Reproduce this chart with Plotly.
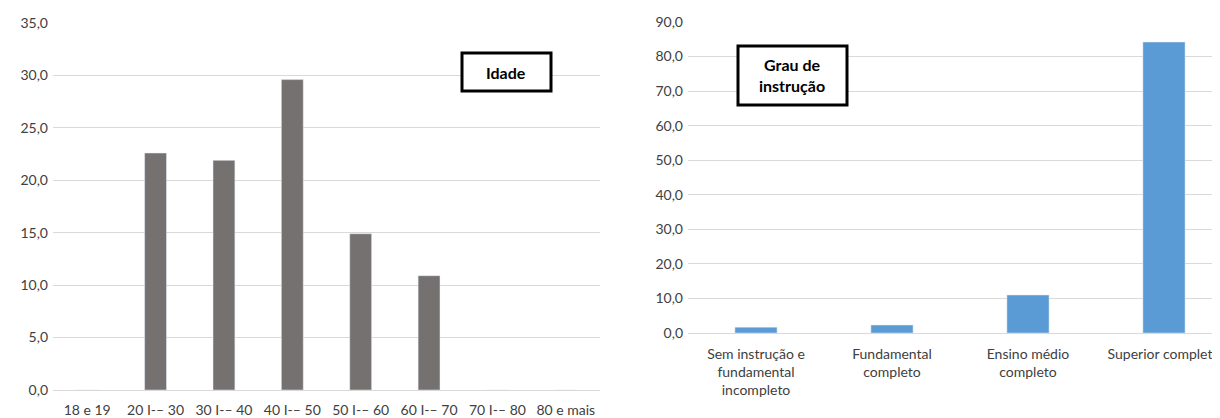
import plotly.graph_objects as go

idade_cats = ["18 e 19", "20 I-– 30", "30 I-– 40", "40 I-– 50", "50 I-– 60",
              "60 I-– 70", "70 I-– 80", "80 e mais"]
idade_vals = [0.0, 22.6, 21.9, 29.6, 14.9, 10.9, 0.0, 0.0]

grau_cats = ["Sem instrução e<br>fundamental<br>incompleto", "Fundamental<br>completo",
             "Ensino médio<br>completo", "Superior completo"]
grau_vals = [1.7, 2.3, 11.0, 84.2]

# page has an 8px body margin; the figure is sized to fit the 1220x418 window
OFF = 8
W, H = 1220 - OFF, 418 - OFF
FONT = "Lato"
TXT = "#404040"

fig = go.Figure()
fig.add_trace(go.Bar(x=idade_cats, y=idade_vals, marker_color="#767171", width=0.32,
                     xaxis="x", yaxis="y", showlegend=False))
fig.add_trace(go.Bar(x=grau_cats, y=grau_vals, marker_color="#5B9BD5", width=0.31,
                     xaxis="x2", yaxis="y2", showlegend=False))

def px(v):
    return (v - OFF) / W

def py(v):
    return (418 - v) / H

common_y = dict(showgrid=True, gridcolor="#D9D9D9", gridwidth=1, zeroline=False,
                tickformat=".1f", tickfont=dict(family=FONT, size=14, color=TXT),
                showline=False, ticks="", fixedrange=True)
common_x = dict(showline=True, linecolor="#D9D9D9", linewidth=1, ticks="",
                tickfont=dict(family=FONT, size=14, color=TXT), tickangle=0,
                fixedrange=True, automargin=False)

fig.update_layout(
    width=W, height=H,
    margin=dict(l=0, r=0, t=0, b=0),
    paper_bgcolor="white", plot_bgcolor="white",
    separators=",.",
    bargap=0.5,
    xaxis=dict(domain=[px(53), px(600)], range=[-0.5, 7.5], anchor="y",
               ticklabelstandoff=7, **common_x),
    yaxis=dict(domain=[py(390), py(23)], range=[0, 35], dtick=5, anchor="x",
               automargin=False, ticklabelstandoff=4, **common_y),
    xaxis2=dict(domain=[px(688), 1.0], range=[-0.5, 3.412], anchor="y2",
                ticklabelstandoff=8, **common_x),
    yaxis2=dict(domain=[py(333), py(22)], range=[0, 90], dtick=10, anchor="x2",
                automargin=False, ticklabelstandoff=4, **common_y),
    shapes=[
        dict(type="rect", xref="paper", yref="paper",
             x0=px(462), x1=px(551), y0=py(91), y1=py(53),
             line=dict(color="black", width=3), fillcolor="white", layer="above"),
        dict(type="rect", xref="paper", yref="paper",
             x0=px(738), x1=px(847), y0=py(105), y1=py(46),
             line=dict(color="black", width=3), fillcolor="white", layer="above"),
    ],
    annotations=[
        dict(text="<b>Idade</b>", xref="paper", yref="paper", x=px(506), y=py(72),
             showarrow=False, font=dict(family=FONT, size=16, color="black"),
             xanchor="center", yanchor="middle"),
        dict(text="<b>Grau de<br>instrução</b>", xref="paper", yref="paper",
             x=px(792), y=py(75), showarrow=False,
             font=dict(family=FONT, size=16, color="black"),
             xanchor="center", yanchor="middle"),
    ],
)

fig.write_html("out.html")
